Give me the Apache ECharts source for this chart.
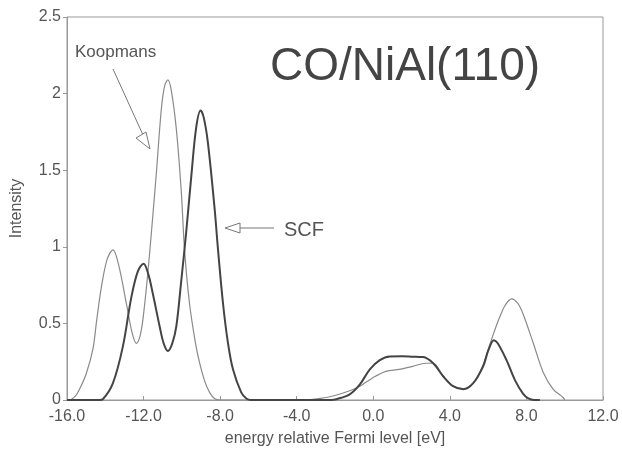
<!DOCTYPE html>
<html>
<head>
    <meta charset="utf-8">
    <title>CO/NiAl(110)</title>
    <script src="https://cdn.jsdelivr.net/npm/echarts@6/dist/echarts.min.js"></script>
    <style type="text/css">
        html, body { margin: 0; padding: 0; background: #fff; }
        #chart { width: 622px; height: 452px; }
    </style>
</head>
<body>
    <div id="chart"></div>
    <script type="text/javascript">
        // Koopmans (thin line)
        var koopEnergy = [-16.0, -15.9, -15.6, -15.35, -15.0, -14.65, -14.45, -14.2, -13.9, -13.6, -13.3, -12.9, -12.6, -12.38, -12.2, -12.04, -11.8, -11.6,
            -11.34, -11.07, -10.9, -10.73, -10.55, -10.29, -10.03, -9.86, -9.6, -9.3, -9.07, -8.8, -8.55, -8.3, -8.0,
            -4.0, -3.5, -2.8, -2.1, -1.23, -0.7, -0.04, 0.66, 1.36, 2.06, 2.76, 3.13, 3.65, 4.17, 4.7, 5.22, 5.74,
            6.0, 6.3, 6.6, 6.9, 7.23, 7.55, 7.83, 8.36, 8.88, 9.4, 9.93, 10.0];
        var koopIntensity = [0, 0, 0.02, 0.07, 0.17, 0.33, 0.52, 0.74, 0.92, 0.98, 0.88, 0.63, 0.44, 0.37, 0.41, 0.52, 0.8, 1.08,
            1.47, 1.9, 2.05, 2.09, 2.02, 1.77, 1.36, 0.98, 0.63, 0.38, 0.24, 0.12, 0.05, 0.01, 0,
            0, 0, 0.01, 0.026, 0.06, 0.09, 0.144, 0.187, 0.2, 0.22, 0.24, 0.24, 0.155, 0.09, 0.075, 0.11, 0.23,
            0.33, 0.44, 0.54, 0.62, 0.66, 0.63, 0.56, 0.37, 0.18, 0.07, 0.015, 0];

        // SCF (thick line)
        var scfEnergy = [-16.0, -14.3, -14.13, -13.6, -13.08, -12.64, -12.3, -12.0, -11.75, -11.51, -11.16, -10.95, -10.73, -10.5, -10.29, -10.03,
            -9.77, -9.5, -9.25, -9.02, -8.85, -8.64, -8.29, -8.11, -7.85, -7.6, -7.33, -6.9, -6.63, -6.4,
            -2.2, -1.93, -1.23, -0.71, -0.18, 0.34, 0.86, 1.5, 2.0, 2.6, 3.13, 3.65, 4.17, 4.7, 5.22, 5.74,
            6.0, 6.3, 6.5, 6.96, 7.4, 7.83, 8.1, 8.4, 8.7];
        var scfIntensity = [0, 0, 0.005, 0.11, 0.35, 0.67, 0.84, 0.89, 0.82, 0.69, 0.48, 0.37, 0.32, 0.37, 0.48, 0.78,
            1.1, 1.47, 1.78, 1.89, 1.84, 1.68, 1.25, 0.98, 0.63, 0.38, 0.2, 0.05, 0.01, 0,
            0, 0.005, 0.037, 0.1, 0.2, 0.26, 0.284, 0.285, 0.283, 0.28, 0.24, 0.155, 0.09, 0.07, 0.11, 0.22,
            0.32, 0.39, 0.37, 0.26, 0.13, 0.04, 0.01, 0, 0];

        var xTicks = [-16, -12, -8, -4, 0, 4, 8, 12];
        var yTicks = [0, 0.5, 1, 1.5, 2, 2.5];

        function pairs(xs, ys) {
            var out = [];
            for (var i = 0; i < xs.length; i++) out.push([xs[i], ys[i]]);
            return out;
        }

        var font = 'Liberation Sans, Arial, sans-serif';
        var chart = echarts.init(document.getElementById('chart'));

        var option = {
            animation: false,
            grid: {
                left: 67, right: 19, top: 17, bottom: 48,
                show: true, borderColor: '#999', borderWidth: 1
            },
            xAxis: {
                type: 'value',
                min: xTicks[0], max: xTicks[xTicks.length - 1], interval: 4,
                name: 'energy relative Fermi level [eV]',
                nameLocation: 'middle', nameGap: 31,
                nameTextStyle: { fontFamily: font, fontSize: 16, color: '#555' },
                axisLine: { onZero: false, lineStyle: { color: '#999' } },
                axisTick: { inside: true, length: 4, lineStyle: { color: '#999' } },
                splitLine: { show: false },
                axisLabel: {
                    fontFamily: font, fontSize: 16, color: '#555', margin: 9,
                    formatter: function (v) { return v.toFixed(1); }
                }
            },
            yAxis: {
                type: 'value',
                min: yTicks[0], max: yTicks[yTicks.length - 1], interval: 0.5,
                name: 'Intensity',
                nameLocation: 'middle', nameGap: 42,
                nameTextStyle: { fontFamily: font, fontSize: 16, color: '#555' },
                axisLine: { show: true, onZero: false, lineStyle: { color: '#999' } },
                axisTick: { show: true, length: 4, lineStyle: { color: '#999' } },
                splitLine: { show: false },
                axisLabel: { fontFamily: font, fontSize: 16, color: '#555', margin: 6 }
            },
            series: [
                {
                    name: 'Koopmans', type: 'line', showSymbol: false,
                    smooth: 0.35,
                    lineStyle: { color: '#8a8a8a', width: 1.2 },
                    data: pairs(koopEnergy, koopIntensity)
                },
                {
                    name: 'SCF', type: 'line', showSymbol: false,
                    smooth: 0.35,
                    lineStyle: { color: '#444', width: 2 },
                    data: pairs(scfEnergy, scfIntensity)
                }
            ],
            graphic: [
                { type: 'text', left: 270, top: 44, style: { text: 'CO/NiAl(110)', font: '46px ' + font, fill: '#444' } },
                { type: 'text', left: 75, top: 44, style: { text: 'Koopmans', font: '17px ' + font, fill: '#555' } },
                { type: 'text', left: 284, top: 220, style: { text: 'SCF', font: '20px ' + font, fill: '#555' } },
                // Koopmans arrow
                { type: 'line', shape: { x1: 113, y1: 69, x2: 143, y2: 135 }, style: { stroke: '#777', lineWidth: 1 } },
                { type: 'polygon', shape: { points: [[150, 149], [136, 138], [146, 132]] }, style: { fill: '#fff', stroke: '#777', lineWidth: 1 } },
                // SCF arrow
                { type: 'line', shape: { x1: 274, y1: 228, x2: 240, y2: 228 }, style: { stroke: '#777', lineWidth: 1 } },
                { type: 'polygon', shape: { points: [[225, 228], [240, 223], [240, 233]] }, style: { fill: '#fff', stroke: '#777', lineWidth: 1 } }
            ]
        };
        chart.setOption(option);
    </script>
</body>
</html>
